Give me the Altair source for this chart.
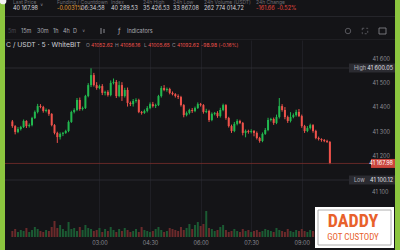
import altair as alt
import pandas as pd

# ---------------- data ----------------
start_minute = 25          # first candle 00:25
interval = 5               # 5-minute candles
first_open = 41340.0

closes = [41321, 41297, 41309, 41317, 41342, 41321, 41325, 41354, 41379, 41403,
          41399, 41383, 41387, 41371, 41325, 41293, 41276, 41289, 41293, 41301,
          41338, 41379, 41387, 41428, 41391, 41395, 41444, 41489, 41530, 41489,
          41477, 41485, 41457, 41461, 41448, 41498, 41502, 41444, 41489, 41444,
          41469, 41416, 41411, 41424, 41428, 41379, 41375, 41383, 41395, 41411,
          41403, 41407, 41444, 41477, 41469, 41473, 41457, 41452, 41444, 41440,
          41407, 41366, 41375, 41387, 41383, 41395, 41411, 41407, 41379, 41383,
          41346, 41371, 41375, 41362, 41387, 41407, 41354, 41321, 41301, 41330,
          41342, 41334, 41293, 41301, 41297, 41301, 41293, 41272, 41260, 41289,
          41305, 41346, 41350, 41334, 41358, 41403, 41387, 41358, 41342, 41358,
          41366, 41379, 41362, 41321, 41301, 41313, 41325, 41301, 41272, 41268,
          41264, 41260, 41256, 41167.98]

upper_wick = [6, 4, 8, 5, 6, 3, 7, 5, 6, 9,
              8, 5, 6, 4, 3, 4, 5, 6, 4, 5,
              6, 5, 7, 8, 10, 6, 5, 8, 29, 9,
              12, 6, 8, 5, 7, 10, 14, 8, 16, 12,
              9, 10, 6, 8, 7, 5, 4, 6, 8, 7,
              9, 6, 5, 8, 12, 6, 5, 6, 4, 7,
              5, 4, 6, 5, 8, 6, 7, 5, 4, 9,
              5, 6, 4, 7, 9, 6, 4, 5, 6, 8,
              7, 5, 4, 6, 5, 7, 4, 6, 5, 6,
              8, 9, 5, 6, 10, 33, 8, 12, 6, 20,
              7, 9, 12, 6, 5, 8, 6, 4, 5, 6,
              3, 4, 5, 4]

lower_wick = [7, 10, 5, 6, 4, 8, 6, 5, 4, 6,
              5, 7, 6, 8, 5, 6, 24, 10, 9, 4,
              5, 4, 6, 5, 7, 6, 4, 5, 8, 6,
              7, 5, 9, 10, 6, 5, 6, 8, 5, 20,
              6, 15, 8, 10, 7, 5, 7, 4, 6, 5,
              6, 8, 4, 6, 5, 7, 6, 5, 6, 8,
              6, 9, 5, 6, 8, 5, 4, 6, 7, 5,
              8, 5, 6, 7, 6, 5, 7, 6, 8, 5,
              6, 5, 10, 18, 7, 6, 14, 6, 7, 5,
              4, 5, 6, 8, 5, 6, 7, 9, 8, 6,
              5, 6, 4, 7, 8, 5, 6, 7, 5, 6,
              7, 5, 4, 3]

volumes = [6, 8, 5, 7, 6, 9, 5, 7, 10, 8,
           6, 5, 7, 6, 10, 16, 9, 12, 8, 6,
           15, 8, 9, 6, 10, 7, 12, 9, 8, 6,
           7, 9, 5, 8, 6, 10, 7, 5, 8, 6,
           9, 7, 5, 6, 8, 5, 10, 7, 6, 5,
           6, 8, 10, 7, 5, 6, 9, 8, 7, 6,
           10, 7, 9, 13, 8, 12, 15, 11, 13, 26,
           9, 8, 6, 7, 10, 12, 7, 5, 6, 8,
           6, 5, 8, 6, 7, 5, 6, 7, 5, 6,
           8, 7, 6, 5, 9, 7, 6, 5, 8, 6,
           5, 7, 6, 8, 6, 5, 7, 6, 5, 6,
           6, 5, 7, 9]

time_ticks = [180, 270, 360, 450, 540]
price_ticks = [41200, 41300, 41400, 41500, 41600]
high_label = 41600.05
low_label = 41100.12
last_price = 41167.98

n = len(closes)
minutes = [start_minute + interval * i for i in range(n)]
opens = [first_open] + closes[:-1]
highs = [max(o, c) + u for o, c, u in zip(opens, closes, upper_wick)]
lows = [min(o, c) - l for o, c, l in zip(opens, closes, lower_wick)]
dirs = ["up" if c >= o else "down" for o, c in zip(opens, closes)]
df = pd.DataFrame({"t": minutes, "open": opens, "close": closes, "high": highs,
                   "low": lows, "vol": volumes, "dir": dirs})
visible_high = max(highs)

# ---------------- style ----------------
BG = "#141417"
GREEN = "#22b84f"
RED = "#ef524b"
VGREEN = "#1b5a33"
VRED = "#6b2a2b"
GRID = "#1f1f25"
LIME = "#8cc63f"
FONT = "Inter"
W, H = 365, 197
OX, OY = 5, 40   # plot origin in the page

xscale = alt.Scale(domain=[20.8, 652.5], nice=False, zero=False)
yscale = alt.Scale(domain=[40866.5, 41673.8], nice=False, zero=False)

time_expr = ("(floor(datum.value/60) < 10 ? '0' : '') + floor(datum.value/60) + ':' + "
             "(datum.value % 60 < 10 ? '0' : '') + (datum.value % 60)")
xaxis = alt.Axis(values=time_ticks, labelExpr=time_expr, title=None, ticks=False,
                 domain=False, gridColor=GRID, labelColor="#8b8b93", labelFontSize=5.5,
                 labelFont=FONT, labelPadding=3)
yaxis = alt.Axis(orient="right", values=price_ticks,
                 labelExpr="replace(format(datum.value, ','), ',', ' ')",
                 title=None, ticks=False, domain=False, gridColor=GRID,
                 labelColor="#8b8b93", labelFontSize=5.5, labelFont=FONT, labelPadding=2)

X = alt.X("t:Q", scale=xscale, axis=xaxis)
color_c = alt.condition("datum.dir == 'up'", alt.value(GREEN), alt.value(RED))
color_v = alt.condition("datum.dir == 'up'", alt.value(VGREEN), alt.value(VRED))

base = alt.Chart(df)
one = pd.DataFrame({"k": [0]})


def txt(s, x, y, color, size, align="left", weight="normal", font=FONT):
    return alt.Chart(one).mark_text(text=s, align=align, baseline="middle", color=color,
                                    fontSize=size, fontWeight=weight, font=font).encode(
        x=alt.value(x - OX), y=alt.value(y - OY))


def rect(x1, x2, y1, y2, fill, stroke=None, sw=0):
    kw = dict(fill=fill)
    if stroke:
        kw.update(stroke=stroke, strokeWidth=sw)
    return alt.Chart(one).mark_rect(**kw).encode(
        x=alt.value(x1 - OX), x2=alt.value(x2 - OX), y=alt.value(y1 - OY), y2=alt.value(y2 - OY))


def hline(x1, x2, y, color, sw=1):
    return alt.Chart(one).mark_rule(color=color, strokeWidth=sw).encode(
        x=alt.value(x1 - OX), x2=alt.value(x2 - OX), y=alt.value(y - OY))


def vline(x, y1, y2, color, sw=1):
    return alt.Chart(one).mark_rule(color=color, strokeWidth=sw).encode(
        x=alt.value(x - OX), y=alt.value(y1 - OY), y2=alt.value(y2 - OY))


# ---------------- chart layers ----------------
volume = base.mark_bar(size=2).encode(
    x=X, y=alt.Y("vol:Q", scale=alt.Scale(domain=[0, 197]), axis=None), color=color_v)

wicks = base.mark_rule(strokeWidth=1).encode(
    x=X, y=alt.Y("low:Q", scale=yscale, axis=yaxis), y2="high:Q", color=color_c)
bodies = base.mark_bar(size=2).encode(
    x=X, y=alt.Y("open:Q", scale=yscale, axis=yaxis), y2="close:Q", color=color_c)


def price_rule(v, color, sw=1, x1=0, x2=W):
    return alt.Chart(one).mark_rule(color=color, strokeWidth=sw).encode(
        x=alt.value(x1), x2=alt.value(x2), y=alt.datum(v))


def price_text(v, s, x, color, size=5.5, align="left", dy=0):
    return alt.Chart(one).mark_text(text=s, align=align, baseline="middle", color=color,
                                    fontSize=size, font=FONT, dy=dy).encode(
        x=alt.value(x - OX), y=alt.datum(v))


price = alt.layer(
    wicks, bodies,
    price_rule(visible_high, "#34343b", 0.7),
    price_rule(low_label, "#34343b", 0.7),
    price_rule(last_price, "#7a2d2b", 0.8),
    price_rule(visible_high, "#2b2b31", 9, 349 - OX, 395 - OX),
    price_text(visible_high, "High", 354, "#b5b5bd"),
    price_text(visible_high, "41 600.05", 393, "#e2e2e8", align="right"),
    price_rule(low_label, "#2b2b31", 9, 349 - OX, 395 - OX),
    price_text(low_label, "Low", 354, "#b5b5bd"),
    price_text(low_label, "41 100.12", 393, "#e2e2e8", align="right"),
    price_rule(last_price, "#c9443c", 9, 371 - OX, 395 - OX),
    price_text(last_price, "41 167.98", 393, "#ffffff", align="right"),
    price_text(41100, "41 100", 372, "#8b8b93", dy=12),
)

chart_core = alt.layer(volume, price).resolve_scale(y="independent")

# ---------------- decorations (header, toolbar, logo) ----------------
HDR_LBL = "#6c6c74"
HDR_VAL = "#d6d6dc"
decor_back = [
    hline(5, 395, 16.5, "#2a2a30", 0.8),
    hline(5, 395, 39.5, "#222227", 0.8),
]

header = [
    txt("Last Price", 13, 1.5, HDR_LBL, 5), txt("40 167.98", 13, 7.5, HDR_VAL, 5.5),
    txt("∨", 40, 5, "#8b8b93", 4.5, font="DejaVu Sans"),
    txt("Funding / Countdown", 57, 1.5, HDR_LBL, 5),
    txt("-0.0031%", 57, 7.5, "#e6a23a", 5.5), txt("06:34:58", 81, 7.5, HDR_VAL, 5.5),
    txt("Index", 111, 1.5, HDR_LBL, 5), txt("40 289.53", 111, 7.5, HDR_VAL, 5.5),
    txt("24h High", 143, 1.5, HDR_LBL, 5), txt("35 426.53", 143, 7.5, HDR_VAL, 5.5),
    txt("24h Low", 173, 1.5, HDR_LBL, 5), txt("33 867.08", 173, 7.5, HDR_VAL, 5.5),
    txt("24h Volume (USDT)", 204, 1.5, HDR_LBL, 5), txt("262 774 014.72", 204, 7.5, HDR_VAL, 5.5),
    txt("24h Change", 256, 1.5, HDR_LBL, 5),
    txt("-161.66", 256, 7.5, "#e5473f", 5.5), txt("-0.52%", 277, 7.5, "#e5473f", 5.5),
]

TB = "#a9a9b1"
toolbar = [
    txt("5m", 8, 31, "#4a4a52", 5.5), txt("15m", 21, 31, TB, 5.5), txt("30m", 37, 31, TB, 5.5),
    txt("1h", 53, 31, TB, 5.5), txt("4h", 63, 31, TB, 5.5), txt("D", 73, 31, TB, 5.5),
    txt("∨", 82, 31, "#8b8b93", 4.5, font="DejaVu Sans"),
    vline(101, 28, 34, "#8b8b93", 1), vline(104, 29, 33, "#8b8b93", 1),
    txt("ƒ", 118, 31, TB, 7, font="DejaVu Sans"), txt("Indicators", 127, 31, TB, 5.5),
    alt.Chart(one).mark_point(shape="circle", filled=False, color="#8b8b93", size=30,
                              strokeWidth=0.8).encode(x=alt.value(348 - OX), y=alt.value(31 - OY)),
    alt.Chart(one).mark_point(shape="square", filled=False, color="#8b8b93", size=30,
                              strokeWidth=0.8, strokeDash=[2, 2]).encode(
        x=alt.value(365 - OX), y=alt.value(31 - OY)),
    rect(379, 386, 28, 34, "none", "#8b8b93", 0.8),
]

legend = [
    txt("C / USDT · 5 · WhiteBIT", 6, 45, "#cfcfd5", 6.8),
    txt("O", 86, 45, "#8b8b93", 5), txt("41052.62", 91, 45, RED, 5),
    txt("H", 115, 45, "#8b8b93", 5), txt("41056.16", 120, 45, RED, 5),
    txt("L", 144, 45, "#8b8b93", 5), txt("41005.65", 148, 45, RED, 5),
    txt("C", 172, 45, "#8b8b93", 5), txt("41092.62", 177, 45, RED, 5),
    txt("-98.98 (-0.16%)", 201, 45, RED, 5),
]

frame = [
    rect(0, 5, 0, 250, LIME),
    rect(395, 400, 0, 250, LIME),
    alt.Chart(one).mark_point(shape="circle", filled=True, color="#f2f2f2", size=45,
                              opacity=1).encode(x=alt.value(3 - OX), y=alt.value(1 - OY)),
]

LOGO_FONT = "Roboto Condensed, DejaVu Sans Condensed, Liberation Sans Narrow, Roboto, sans-serif"
logo = [
    rect(315, 394, 207, 248, "#ffffff"),
    rect(318, 391, 210, 245, "none", "#9a9a9a", 0.8),
    txt("DADDY", 353, 222, "#e8612c", 18, align="center", weight="bold", font=LOGO_FONT),
    txt("GOT CUSTODY", 353, 237, "#e8612c", 9, align="center", font=LOGO_FONT),
]

chart = alt.layer(
    *decor_back, chart_core, *header, *toolbar, *legend, *logo, *frame
).properties(
    width=W, height=H,
    padding={"left": OX, "top": OY, "right": 400 - OX - W, "bottom": 250 - OY - H},
    autosize=alt.AutoSizeParams(type="none"),
).configure(background=BG).configure_view(stroke=None)

chart.save("out.html", embed_options={"renderer": "svg", "actions": False})
